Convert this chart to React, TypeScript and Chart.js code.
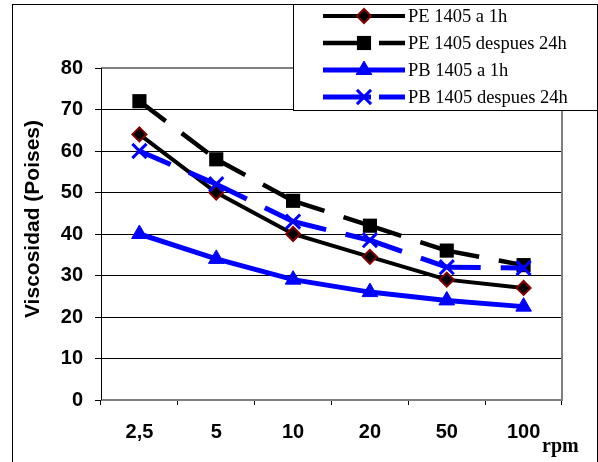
import React, { useEffect, useRef } from 'react';
import { Chart, registerables } from 'chart.js';
import { drawPoint } from 'chart.js/helpers';

Chart.register(...registerables);

// ---- data ----
const categories = ['2,5', '5', '10', '20', '50', '100'];
const peAfter1h = [64, 50, 40, 34.5, 29, 27];
const peAfter24h = [72, 58, 48, 42, 36, 32.5];
const pbAfter1h = [40, 34, 29, 26, 24, 22.5];
const pbAfter24h = [60, 52, 43, 38.5, 32, 31.8];
const seriesNames = ['PE 1405 a 1h', 'PE 1405 despues 24h', 'PB 1405 a 1h', 'PB 1405 despues 24h'];
const yMin = 0;
const yMax = 80;
const yStep = 10;
const yTitle = 'Viscosidad (Poises)';
const xUnit = 'rpm';

const SANS = '"Liberation Sans", Arial, sans-serif';
const SERIF = '"Liberation Serif", "Times New Roman", serif';

const segDash = { borderDashOffset: (c: any) => c.p0DataIndex * 0.01 };

const framePlugin = {
  id: 'frame',
  beforeDraw(chart: any) {
    const ctx = chart.ctx;
    ctx.save();
    ctx.fillStyle = '#ffffff';
    ctx.fillRect(0, 0, chart.width, chart.height);
    ctx.strokeStyle = '#000';
    ctx.lineWidth = 1;
    ctx.strokeRect(12.5, 4.5, 585, 480);
    ctx.restore();
  },
  beforeDatasetsDraw(chart: any) {
    const { ctx, chartArea: a } = chart;
    ctx.save();
    ctx.strokeStyle = '#808080';
    ctx.lineWidth = 2;
    ctx.beginPath();
    ctx.moveTo(a.left, a.top);
    ctx.lineTo(a.right, a.top);
    ctx.lineTo(a.right, a.bottom);
    ctx.lineTo(a.left, a.bottom);
    ctx.stroke();
    ctx.strokeStyle = '#000';
    ctx.lineWidth = 1;
    ctx.beginPath();
    ctx.moveTo(a.left + 0.5, a.top);
    ctx.lineTo(a.left + 0.5, a.bottom);
    ctx.stroke();
    ctx.restore();
  },
  afterDraw(chart: any) {
    const ctx = chart.ctx;
    ctx.save();
    // y axis title
    ctx.save();
    ctx.translate(33, 219);
    ctx.rotate(-Math.PI / 2);
    ctx.fillStyle = '#000';
    ctx.font = 'bold 21px ' + SANS;
    ctx.textAlign = 'center';
    ctx.textBaseline = 'middle';
    ctx.fillText(yTitle, 0, 0);
    ctx.restore();

    // rpm unit label
    ctx.fillStyle = '#000';
    ctx.font = 'bold 20px ' + SERIF;
    ctx.textAlign = 'left';
    ctx.textBaseline = 'alphabetic';
    ctx.fillText(xUnit, 542, 452);

    // legend box
    ctx.fillStyle = '#fff';
    ctx.fillRect(293, 4, 305, 106);
    ctx.strokeStyle = '#000';
    ctx.lineWidth = 1;
    ctx.strokeRect(293.5, 4.5, 304, 106);

    chart.data.datasets.forEach((ds: any, i: number) => {
      const y = 16 + 27 * i;
      ctx.save();
      ctx.strokeStyle = ds.borderColor;
      ctx.lineWidth = ds.borderWidth;
      ctx.setLineDash(ds.borderDash && ds.borderDash.length ? [48, 8] : []);
      ctx.beginPath();
      ctx.moveTo(323, y);
      ctx.lineTo(405, y);
      ctx.stroke();
      ctx.setLineDash([]);
      ctx.fillStyle = ds.pointBackgroundColor;
      ctx.strokeStyle = ds.pointBorderColor;
      ctx.lineWidth = ds.pointBorderWidth;
      drawPoint(ctx, { pointStyle: ds.pointStyle, radius: ds.pointRadius, rotation: 0, borderWidth: ds.pointBorderWidth } as any, 364, y);
      ctx.restore();
      ctx.fillStyle = '#000';
      ctx.font = '18.5px ' + SERIF;
      ctx.textAlign = 'left';
      ctx.textBaseline = 'middle';
      ctx.fillText(ds.label, 408, y + 1);
    });
    ctx.restore();
  },
};

export default function App() {
  const ref = useRef<HTMLCanvasElement | null>(null);
  useEffect(() => {
    if (!ref.current) return;
    const chart = new Chart(ref.current, {
      type: 'line',
      data: {
        labels: categories,
        datasets: [
          {
            label: seriesNames[0],
            data: peAfter1h,
            borderColor: '#000000',
            borderWidth: 4,
            pointStyle: 'rectRot',
            pointRadius: 7,
            pointBackgroundColor: '#000000',
            pointBorderColor: '#800000',
            pointBorderWidth: 2,
            order: 4,
          },
          {
            label: seriesNames[1],
            data: peAfter24h,
            borderColor: '#000000',
            borderWidth: 4.5,
            borderDash: [33, 20],
            segment: segDash,
            pointStyle: 'rect',
            pointRadius: 10,
            pointBackgroundColor: '#000000',
            pointBorderColor: '#000000',
            pointBorderWidth: 0,
            order: 3,
          },
          {
            label: seriesNames[2],
            data: pbAfter1h,
            borderColor: '#0000ff',
            borderWidth: 5,
            pointStyle: 'triangle',
            pointRadius: 9,
            pointBackgroundColor: '#0000ff',
            pointBorderColor: '#0000ff',
            pointBorderWidth: 1,
            order: 2,
          },
          {
            label: seriesNames[3],
            data: pbAfter24h,
            borderColor: '#0000ff',
            borderWidth: 5,
            borderDash: [34, 20],
            segment: segDash,
            pointStyle: 'crossRot',
            pointRadius: 10,
            pointBackgroundColor: '#0000ff',
            pointBorderColor: '#0000ff',
            pointBorderWidth: 3,
            order: 1,
          },
        ] as any,
      },
      options: {
        responsive: false,
        animation: false,
        devicePixelRatio: 1,
        layout: { padding: { top: 68, right: 36, left: 0, bottom: 0 } },
        plugins: { legend: { display: false }, tooltip: { enabled: false } },
        elements: { line: { tension: 0, fill: false } },
        scales: {
          x: {
            offset: true,
            grid: { offset: true, drawOnChartArea: false, drawTicks: true, tickLength: 5, color: '#000', lineWidth: 1 },
            border: { display: false },
            ticks: { color: '#000', font: { family: SANS, size: 20, weight: 'bold' }, padding: 15, maxRotation: 0 },
            afterFit: (s: any) => { s.height = 62; },
          },
          y: {
            min: yMin,
            max: yMax,
            grid: { color: '#000', lineWidth: 1, tickLength: 6, drawTicks: true },
            border: { display: false },
            ticks: { stepSize: yStep, color: '#000', font: { family: SANS, size: 20, weight: 'bold' }, padding: 12 },
            title: { display: false },
            afterFit: (s: any) => { s.width = 101; },
          },
        },
      } as any,
      plugins: [framePlugin],
    });
    return () => chart.destroy();
  }, []);
  return (
    <div style={{ position: 'absolute', left: 0, top: 0, width: 598, height: 462 }}>
      <canvas ref={ref} width={598} height={462} />
    </div>
  );
}
